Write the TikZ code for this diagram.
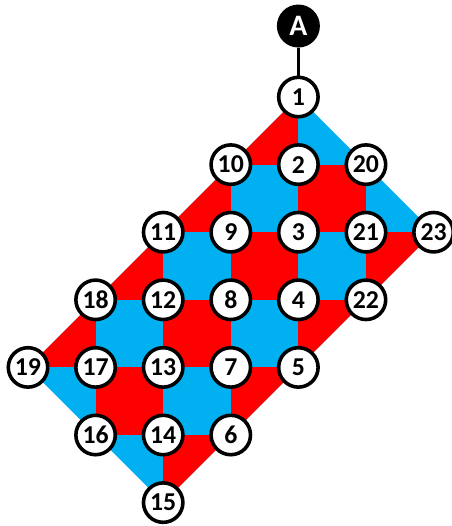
\documentclass[tikz,border=0pt]{standalone}
\usepackage{fontspec}
\setmainfont{Carlito}
\usepackage{tikz}
\usetikzlibrary{positioning}
\definecolor{tilered}{HTML}{FF0000}
\definecolor{tileblue}{HTML}{00B0F0}

\begin{document}
\begin{tikzpicture}[x=1.2cm, y=-1.2cm,
  vertex/.style={circle, draw, line width=1.8pt, fill=white, minimum size=0.70cm,
    inner sep=0pt, font=\fontsize{13}{15}\selectfont\bfseries},
  root/.style={vertex, fill=black, text=white, font=\fontsize{15}{17}\selectfont\bfseries}]
  \useasboundingbox (-0.414,-1.435) rectangle (6.272,6.346);

  % Plocha
  \fill[tileblue] (4,0) -- (6,2) -- (2,6) -- (0,4) -- cycle;
  \begin{scope}
    \clip (4,0) -- (6,2) -- (2,6) -- (0,4) -- cycle;
    \foreach \c in {0,...,5}
      \foreach \r in {0,...,5} {
        \pgfmathtruncatemacro{\odd}{mod(\c+\r,2)}
        \ifnum\odd=1 \fill[tilered] (\c,\r) rectangle ++(1,1); \fi
      }
  \end{scope}

  % Uzly
  \foreach \lbl/\c/\r in {1/4/0, 10/3/1, 2/4/1, 20/5/1, 11/2/2, 9/3/2, 3/4/2,
      21/5/2, 23/6/2, 18/1/3, 12/2/3, 8/3/3, 4/4/3, 22/5/3, 19/0/4, 17/1/4,
      13/2/4, 7/3/4, 5/4/4, 16/1/5, 14/2/5, 6/3/5, 15/2/6}
    \node[vertex] (n\lbl) at (\c,\r) {\lbl};
  \node[root] (a) at (4,-1.05) {A};
  \draw[line width=1.3pt] (a) -- (n1);
\end{tikzpicture}
\end{document}
